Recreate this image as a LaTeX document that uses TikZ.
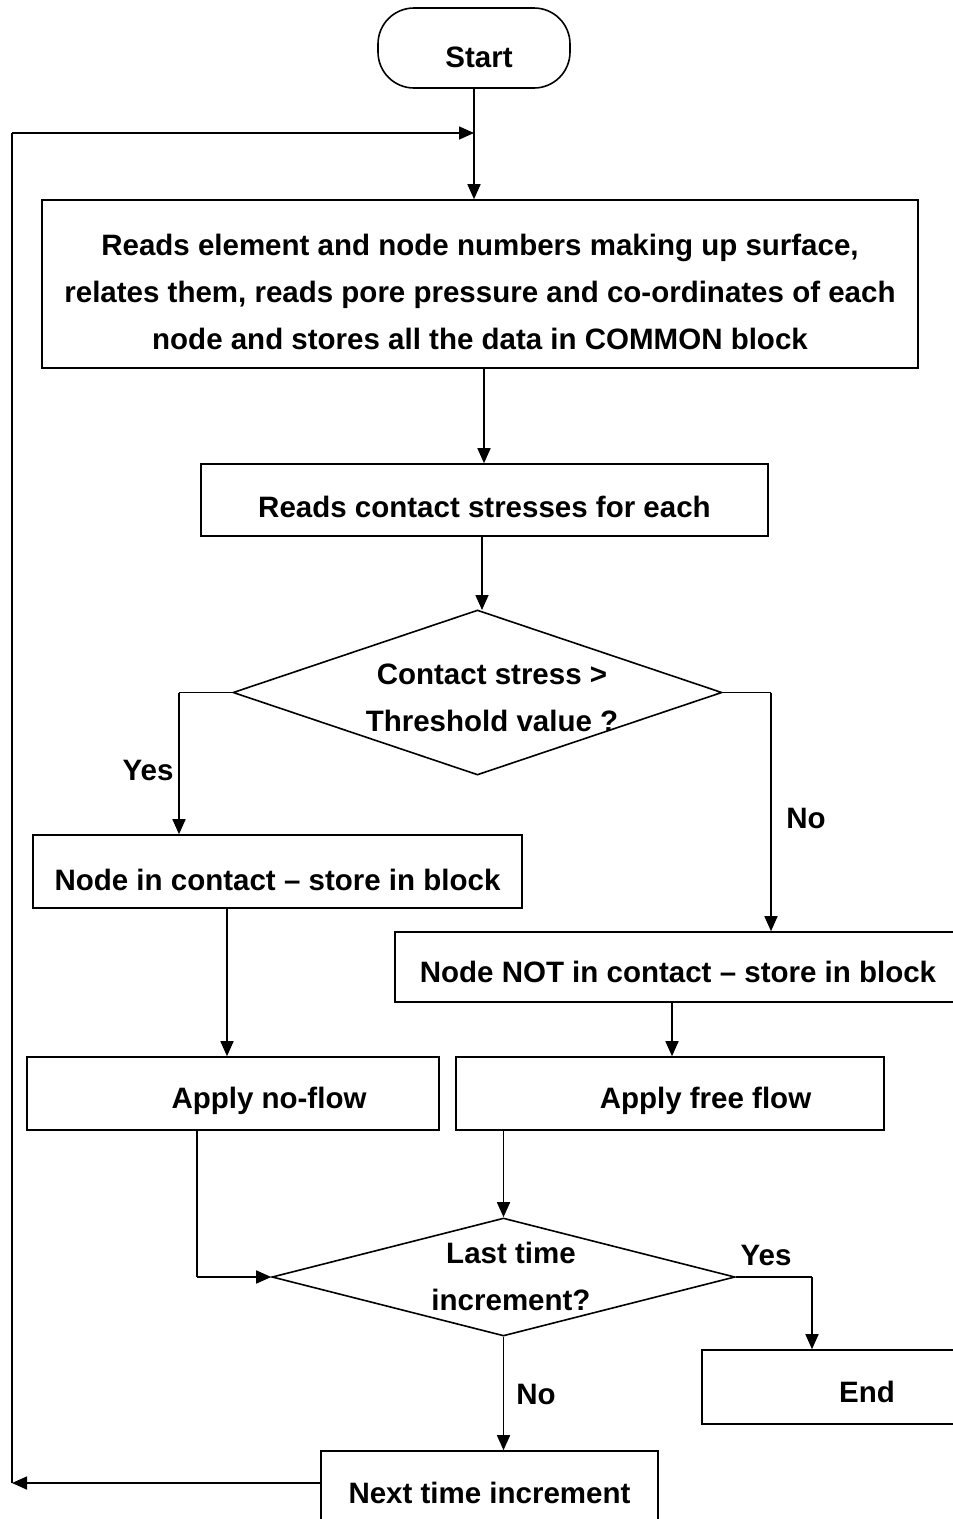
\documentclass[tikz,border=0pt]{standalone}
\usepackage{fontspec}
\setmainfont{Liberation Sans}
\usetikzlibrary{shapes.geometric,arrows.meta}
\begin{document}
\begin{tikzpicture}[x=1pt,y=-1pt,
  every node/.style={font=\fontsize{29.5}{47}\selectfont\bfseries, inner sep=0pt},
  box/.style={draw, line width=1.6pt, rectangle, align=center, text depth=0pt},
  dia/.style={draw, line width=1.6pt, diamond, inner sep=0pt},
  lbl/.style={align=center},
  conn/.style={line width=1.6pt},
  arr/.style={line width=1.6pt, -{Triangle[length=15pt,width=13pt]}}]
\useasboundingbox (0,0) rectangle (953,1519);
\clip (0,0) rectangle (953,1519);
% nodes
\node[box, rounded corners=36pt, minimum width=192pt, minimum height=80pt, text height=39pt] (start) at (474,48) {\hspace*{10pt}Start};
\node[box, minimum width=876pt, minimum height=168pt, text height=131pt, text depth=0pt] (read) at (480,284)
  {Reads element and node numbers making up surface,\\relates them, reads pore pressure and co-ordinates of each\\node and stores all the data in COMMON block};
\node[box, minimum width=567pt, minimum height=72pt, text height=35pt] (stress) at (484.5,500) {Reads contact stresses for each};
\node[dia, minimum width=489pt, minimum height=165pt] (d1) at (477.5,692.5) {};
\node[lbl] (d1t) at (492,698) {Contact stress >\\Threshold value ?};
\node[box, minimum width=489pt, minimum height=73pt, text height=38pt] (inc) at (277.5,871.5) {Node in contact -- store in block};
\node[box, minimum width=566pt, minimum height=70pt, text height=31pt] (notc) at (678,967) {Node NOT in contact -- store in block};
\node[box, minimum width=412pt, minimum height=73pt, text height=30pt] (noflow) at (233,1093.5) {\hspace*{72pt}Apply no-flow};
\node[box, minimum width=428pt, minimum height=73pt, text height=30pt] (free) at (670,1093.5) {\hspace*{71pt}Apply free flow};
\node[dia, minimum width=463pt, minimum height=118pt] (d2) at (503.5,1277) {};
\node[lbl] (d2t) at (511,1276) {Last time\\increment?};
\node[box, minimum width=330pt, minimum height=74pt, text height=31pt] (endb) at (867,1387) {End};
\node[box, minimum width=337pt, minimum height=84pt, text height=21pt] (next) at (489.5,1493) {Next time increment};
% coordinates
\coordinate (loopL) at (12,1483);
\coordinate (loopT) at (12,133);
\coordinate (loopIn) at (474,133);
\coordinate (yesB) at (179,692.5);
\coordinate (noB) at (771,692.5);
\coordinate (nfB) at (197,1277);
\coordinate (endB) at (812,1277);
\coordinate (d1top) at (482,610);
% connectors
\draw[arr] (start.south) -- (read.north -| start.south);
\draw[arr] (read.south -| 484,0) -- (stress.north -| 484,0);
\draw[arr] (stress.south -| d1top) -- (d1top);
\draw[conn] (d1.west) -- (yesB);
\draw[arr] (yesB) -- (yesB |- inc.north);
\draw[conn] (d1.east) -- (noB);
\draw[arr] (noB) -- (noB |- notc.north);
\draw[arr] (inc.south -| 227,0) -- (noflow.north -| 227,0);
\draw[arr] (notc.south -| 672,0) -- (free.north -| 672,0);
\draw[conn] (noflow.south -| nfB) -- (nfB);
\draw[arr] (nfB) -- (d2.west);
\draw[arr] (free.south -| d2.north) -- (d2.north);
\draw[conn] (d2.east) -- (endB);
\draw[arr] (endB) -- (endB |- endb.north);
\draw[arr] (d2.south) -- (next.north -| d2.south);
\draw[arr] (next.west |- loopL) -- (loopL);
\draw[conn] (loopL) -- (loopT);
\draw[arr] (loopT) -- (loopIn);
% labels
\node (yes1) at (148,770) {Yes};
\node (no1) at (806,818) {No};
\node (yes2) at (766,1255) {Yes};
\node (no2) at (536,1394) {No};
\end{tikzpicture}
\end{document}
